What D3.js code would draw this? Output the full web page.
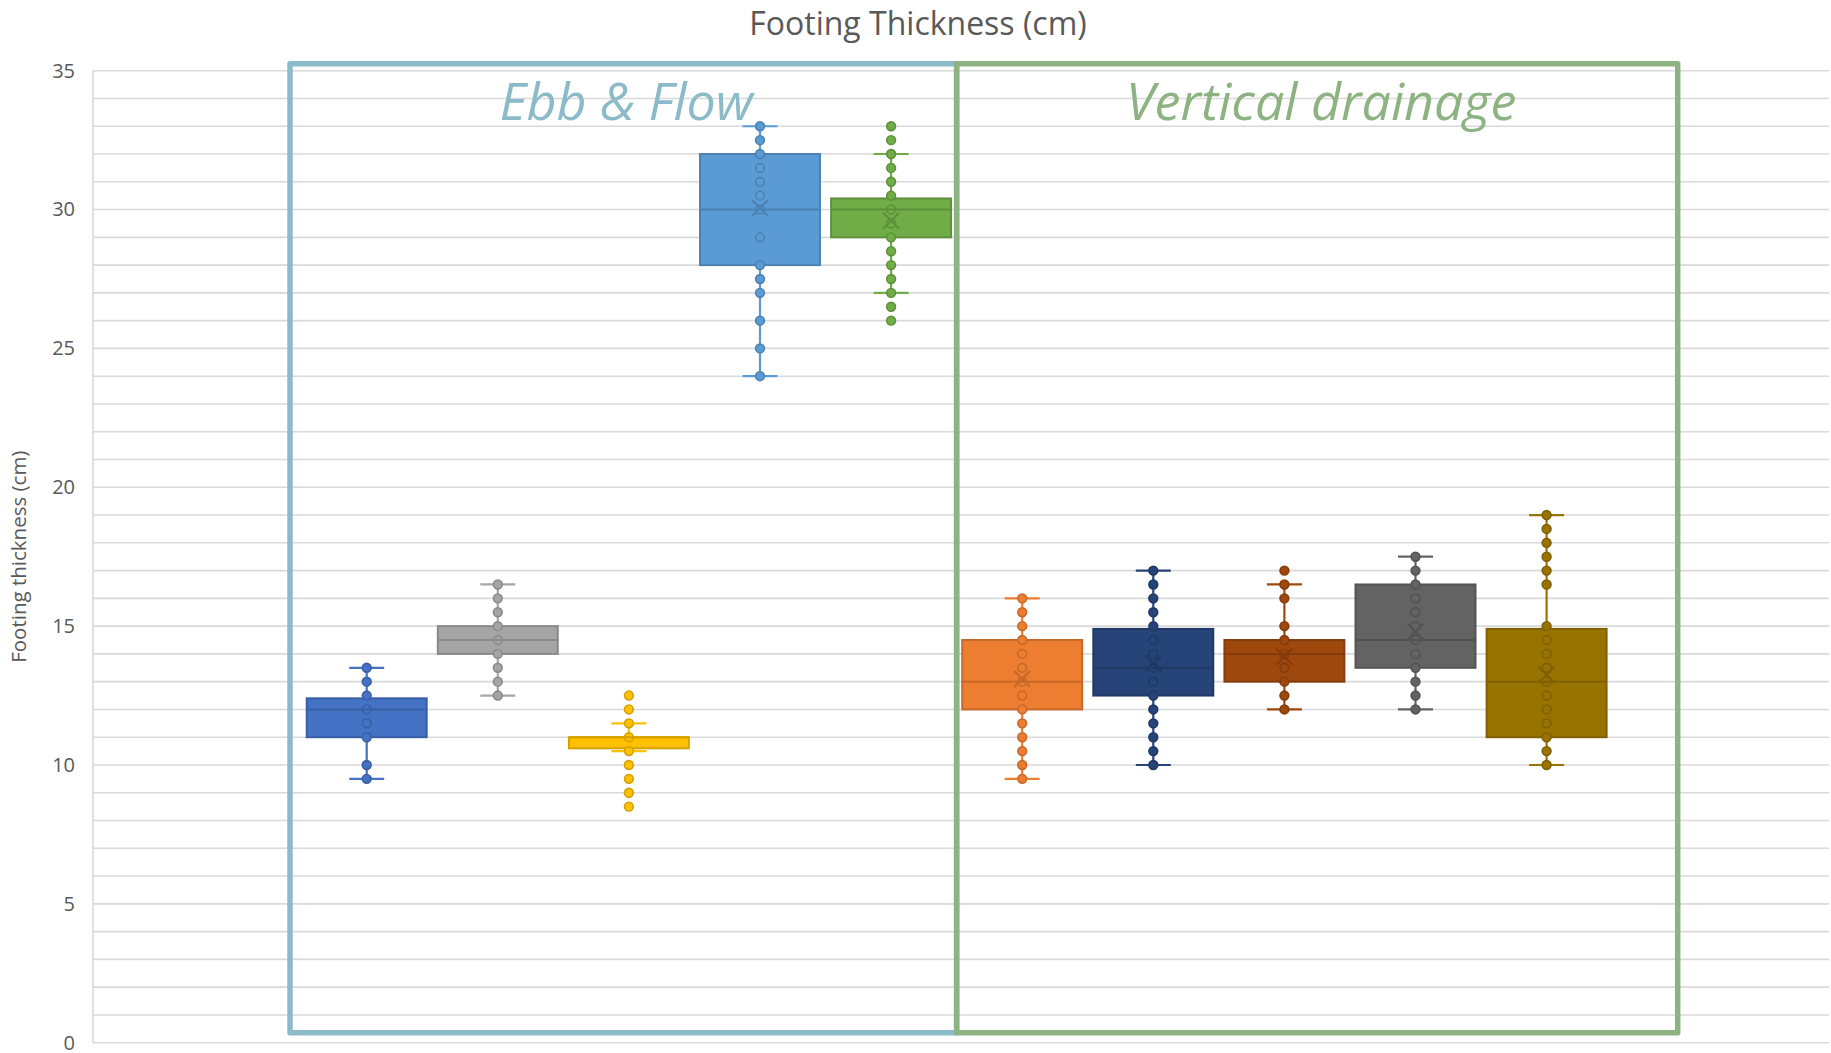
<!DOCTYPE html>
<html>
<head>
<meta charset="utf-8">
<script src="https://cdn.jsdelivr.net/npm/d3@7"></script>
<style>
  html, body { margin: 0; padding: 0; background: #ffffff; }
  svg { display: block; }
</style>
</head>
<body>
<svg id="chart" width="1831" height="1053"></svg>
<script>
// ---- data ----
const chartTitle = "Footing Thickness (cm)";
const yAxisTitle = "Footing thickness (cm)";
const yTicks = [0, 5, 10, 15, 20, 25, 30, 35];

const seriesNames = ["Series 1", "Series 2", "Series 3", "Series 4", "Series 5",
                     "Series 6", "Series 7", "Series 8", "Series 9", "Series 10"];
const seriesColors = ["#4472C4", "#A5A5A5", "#FFC000", "#5B9BD5", "#70AD47",
                      "#ED7D31", "#264478", "#9E480E", "#636363", "#997300"];

// individual measurements (cm)
const observations = [
  [9.5, 10, 11, 11.5, 12, 12.5, 13, 13.5],
  [12.5, 13, 13.5, 14, 14.5, 15, 15.5, 16, 16.5],
  [8.5, 9, 9.5, 10, 10.5, 11, 11.5, 12, 12.5],
  [24, 25, 26, 27, 27.5, 28, 29, 30, 30.5, 31, 31.5, 32, 32.5, 33],
  [26, 26.5, 27, 27.5, 28, 28.5, 29, 29.5, 30, 30.5, 31, 31.5, 32, 32.5, 33],
  [9.5, 10, 10.5, 11, 11.5, 12, 12.5, 13, 13.5, 14, 14.5, 15, 15.5, 16],
  [10, 10.5, 11, 11.5, 12, 12.5, 13, 13.5, 14, 14.5, 15, 15.5, 16, 16.5, 17],
  [12, 12.5, 13, 13.5, 14, 14.5, 15, 16, 16.5, 17],
  [12, 12.5, 13, 13.5, 14, 14.5, 15, 15.5, 16, 16.5, 17, 17.5],
  [10, 10.5, 11, 11.5, 12, 12.5, 13, 13.5, 14, 14.5, 15, 16.5, 17, 17.5, 18, 18.5, 19]
];

// box statistics (cm)
const q1Values      = [11,   14,   10.6, 28, 29,   12,   12.5, 13,   13.5, 11];
const medianValues  = [12,   14.5, 11,   30, 30,   13,   13.5, 14,   14.5, 13];
const q3Values      = [12.4, 15,   11,   32, 30.4, 14.5, 14.9, 14.5, 16.5, 14.9];
const whiskerLow    = [9.5,  12.5, 10.5, 24, 27,   9.5,  10,   12,   12,   10];
const whiskerHigh   = [13.5, 16.5, 11.5, 33, 32,   16,   17,   16.5, 17.5, 19];
const meanValues    = [null, null, null, 30.05, 29.6, 13.1, 13.65, 13.9, 14.8, 13.25];

// two treatment groups, each covering five consecutive series
const groupNames  = ["Ebb & Flow", "Vertical drainage"];
const groupSizes  = [5, 5];
const groupColors = ["#8BBBC9", "#8DB383"];

// ---- layout ----
const svg = d3.select("#chart");
const plotLeft = 93, plotRight = 1829, plotTop = 70.7, plotBottom = 1042.7;

const y = d3.scaleLinear().domain([0, 35]).range([plotBottom, plotTop]);
const x = d3.scaleBand()
  .domain(seriesNames)
  .range([301.15, 1612.15])
  .paddingInner(0.085)
  .paddingOuter(0.0425);

const textColor = "#595959";
const gridColor = "#D9D9D9";

// horizontal gridlines every 1 cm
const gridG = svg.append("g");
gridG.selectAll("line")
  .data(d3.range(0, 36))
  .join("line")
  .attr("x1", plotLeft).attr("x2", plotRight)
  .attr("y1", d => y(d)).attr("y2", d => y(d))
  .attr("stroke", gridColor).attr("stroke-width", 1.6);

// vertical axis line
svg.append("line")
  .attr("x1", plotLeft).attr("x2", plotLeft)
  .attr("y1", y(35)).attr("y2", y(0))
  .attr("stroke", gridColor).attr("stroke-width", 1.6);

// y axis tick labels
const yAxis = d3.axisLeft(y).tickValues(yTicks).tickSize(0).tickPadding(18);
const yAxisG = svg.append("g").attr("transform", `translate(${plotLeft},0)`).call(yAxis);
yAxisG.select(".domain").remove();
yAxisG.selectAll("text")
  .attr("font-family", "'Open Sans', sans-serif")
  .attr("font-size", 20)
  .attr("fill", textColor);

// y axis title
svg.append("text")
  .attr("transform", `translate(26,${(plotTop + plotBottom) / 2}) rotate(-90)`)
  .attr("text-anchor", "middle")
  .attr("font-family", "'Open Sans', sans-serif")
  .attr("font-size", 20.5)
  .attr("fill", textColor)
  .text(yAxisTitle);

// chart title
svg.append("text")
  .attr("x", 918).attr("y", 35)
  .attr("text-anchor", "middle")
  .attr("font-family", "'Open Sans', sans-serif")
  .attr("font-size", 32)
  .attr("fill", textColor)
  .text(chartTitle);

// ---- boxes ----
const step = x.step();
const bw = x.bandwidth();
const capHalf = 17.5;

seriesNames.forEach((name, i) => {
  const c = seriesColors[i];
  const dark = d3.color(c).darker(0.5).formatHex();
  const cx = x(name) + bw / 2;
  const g = svg.append("g");

  // whisker stem
  g.append("line")
    .attr("x1", cx).attr("x2", cx)
    .attr("y1", y(whiskerLow[i])).attr("y2", y(whiskerHigh[i]))
    .attr("stroke", c).attr("stroke-width", 2.2);
  // whisker caps
  [whiskerLow[i], whiskerHigh[i]].forEach(v => {
    g.append("line")
      .attr("x1", cx - capHalf).attr("x2", cx + capHalf)
      .attr("y1", y(v)).attr("y2", y(v))
      .attr("stroke", c).attr("stroke-width", 2.2);
  });

  // box
  g.append("rect")
    .attr("x", x(name)).attr("width", bw)
    .attr("y", y(q3Values[i]))
    .attr("height", y(q1Values[i]) - y(q3Values[i]))
    .attr("fill", c)
    .attr("stroke", dark).attr("stroke-width", 2);

  // individual points
  g.selectAll("circle")
    .data(observations[i])
    .join("circle")
    .attr("cx", cx).attr("cy", d => y(d))
    .attr("r", 4.4)
    .attr("fill", c)
    .attr("stroke", dark).attr("stroke-width", 1.6);

  // median
  g.append("line")
    .attr("x1", x(name)).attr("x2", x(name) + bw)
    .attr("y1", y(medianValues[i])).attr("y2", y(medianValues[i]))
    .attr("stroke", dark).attr("stroke-width", 2);

  // mean marker
  if (meanValues[i] != null) {
    const my = y(meanValues[i]), s = 8;
    g.append("path")
      .attr("d", `M${cx - s},${my - s}L${cx + s},${my + s}M${cx - s},${my + s}L${cx + s},${my - s}`)
      .attr("stroke", dark).attr("stroke-width", 2.2).attr("fill", "none");
  }
});

// ---- group frames and labels ----
let start = 0;
const frameTop = y(35) - 7;
const frameBottom = y(0) - 10;
groupNames.forEach((gName, gi) => {
  const first = seriesNames[start];
  const last = seriesNames[start + groupSizes[gi] - 1];
  const firstC = x(first) + bw / 2;
  const lastC = x(last) + bw / 2;
  const left = gi === 0 ? firstC - 0.585 * step : firstC - 0.5 * step;
  const right = gi === 0 ? lastC + 0.5 * step : lastC + step;
  svg.append("rect")
    .attr("x", left).attr("y", frameTop)
    .attr("width", right - left).attr("height", frameBottom - frameTop)
    .attr("fill", "none")
    .attr("stroke", groupColors[gi]).attr("stroke-width", 5.5)
    .attr("stroke-linejoin", "round");
  svg.append("text")
    .attr("x", (left + right) / 2 + (gi === 0 ? 3 : 4))
    .attr("y", 120)
    .attr("text-anchor", "middle")
    .attr("font-family", "'Open Sans', sans-serif")
    .attr("font-style", "italic")
    .attr("font-size", 52)
    .attr("fill", groupColors[gi])
    .text(gName);
  start += groupSizes[gi];
});
</script>
</body>
</html>
